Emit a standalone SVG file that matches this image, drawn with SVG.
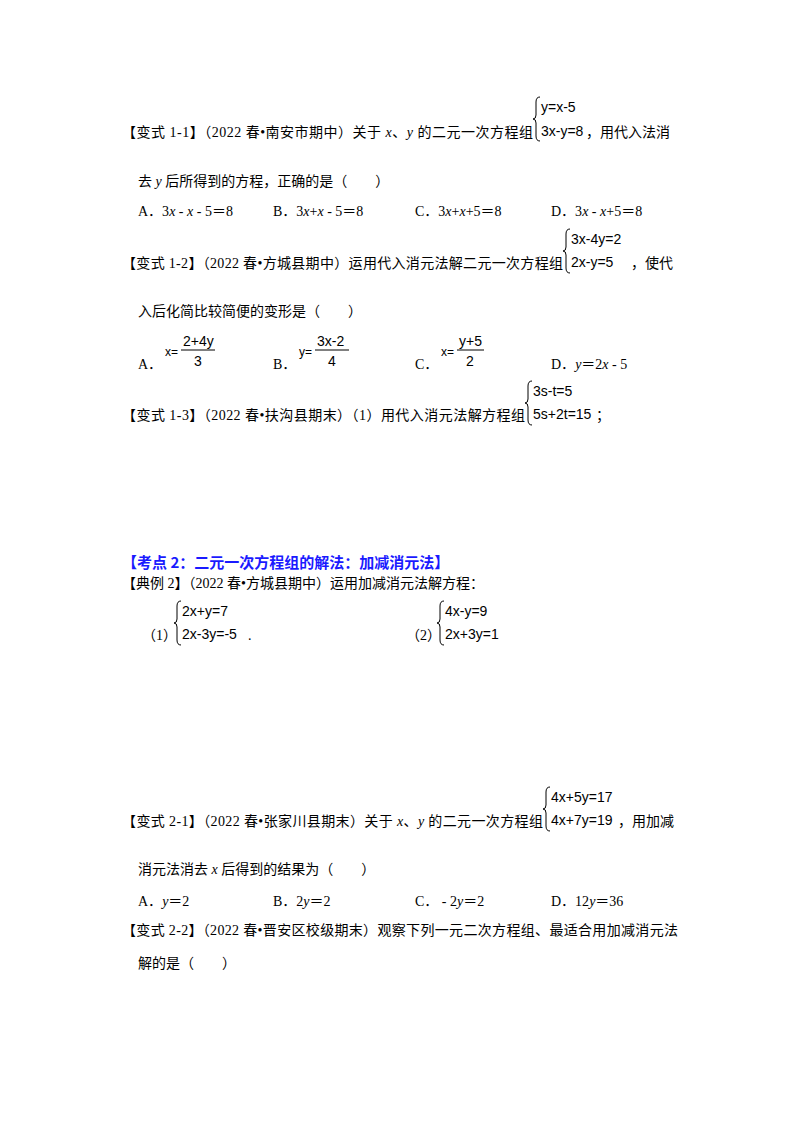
<svg xmlns="http://www.w3.org/2000/svg" width="800" height="1132" viewBox="0 0 800 1132">
<style>
text{font-family:"Liberation Serif","Noto Sans CJK SC",serif;font-size:14px;fill:#000}
.eq{font-family:"Liberation Sans","DejaVu Sans",sans-serif;font-size:14px}
.sm{font-size:12px}
.h{font-family:"Noto Sans CJK SC",sans-serif;font-weight:bold;font-size:15px;fill:#1a1aff}
.br{fill:none;stroke:#000;stroke-width:1}
</style>
<rect width="800" height="1132" fill="#fff"/>
<defs><path id="brace" class="br" d="M7,0 Q3,0 3,5 L3,18 Q3,22 0,22 Q3,22 3,26 L3,39 Q3,44 7,44"/></defs>

<text x="122" y="137" textLength="411" lengthAdjust="spacing">【变式 1-1】（2022 春•南安市期中）关于 <tspan font-style="italic">x</tspan>、<tspan font-style="italic">y</tspan> 的二元一次方程组</text>
<use href="#brace" x="533" y="97"/>
<text class="eq" x="541" y="112">y=x-5</text>
<text class="eq" x="541" y="136">3x-y=8</text>
<text x="586" y="137">，用代入法消</text>
<text x="138" y="186">去 <tspan font-style="italic">y</tspan> 后所得到的方程，正确的是（　　）</text>
<text x="138" y="216">A．3<tspan font-style="italic">x</tspan> - <tspan font-style="italic">x</tspan> - 5＝8</text>
<text x="273" y="216">B．3<tspan font-style="italic">x</tspan>+<tspan font-style="italic">x</tspan> - 5＝8</text>
<text x="415" y="216">C．3<tspan font-style="italic">x</tspan>+<tspan font-style="italic">x</tspan>+5＝8</text>
<text x="551" y="216">D．3<tspan font-style="italic">x</tspan> - <tspan font-style="italic">x</tspan>+5＝8</text>

<text x="122" y="268" textLength="441" lengthAdjust="spacing">【变式 1-2】（2022 春•方城县期中）运用代入消元法解二元一次方程组</text>
<use href="#brace" x="563" y="229"/>
<text class="eq" x="571" y="244">3x-4y=2</text>
<text class="eq" x="571" y="267">2x-y=5</text>
<text x="631" y="268">，使代</text>
<text x="138" y="316">入后化简比较简便的变形是（　　）</text>
<text x="138" y="369">A．</text>
<text class="eq sm" x="165" y="356">x=</text>
<text class="eq" x="183" y="346">2+4y</text>
<line x1="181" y1="350" x2="215" y2="350" stroke="#000"/>
<text class="eq" x="194" y="366">3</text>
<text x="273" y="369">B．</text>
<text class="eq sm" x="299" y="356">y=</text>
<text class="eq" x="317" y="346">3x-2</text>
<line x1="315" y1="350" x2="349" y2="350" stroke="#000"/>
<text class="eq" x="328" y="366">4</text>
<text x="415" y="369">C．</text>
<text class="eq sm" x="441" y="356">x=</text>
<text class="eq" x="459" y="346">y+5</text>
<line x1="457" y1="350" x2="484" y2="350" stroke="#000"/>
<text class="eq" x="466" y="366">2</text>
<text x="551" y="369">D．<tspan font-style="italic">y</tspan>＝2<tspan font-style="italic">x</tspan> - 5</text>

<text x="122" y="420" textLength="403" lengthAdjust="spacing">【变式 1-3】（2022 春•扶沟县期末）（1）用代入消元法解方程组</text>
<use href="#brace" x="525" y="381"/>
<text class="eq" x="533" y="396">3s-t=5</text>
<text class="eq" x="533" y="419">5s+2t=15</text>
<text x="596" y="420">；</text>

<text class="h" x="122" y="568">【考点 2：二元一次方程组的解法：加减消元法】</text>
<text x="122" y="588">【典例 2】（2022 春•方城县期中）运用加减消元法解方程：</text>
<text x="142" y="640">（1）</text>
<use href="#brace" x="174" y="601"/>
<text class="eq" x="182" y="616">2x+y=7</text>
<text class="eq" x="182" y="639">2x-3y=-5</text>
<text x="248" y="640">.</text>
<text x="406" y="640">（2）</text>
<use href="#brace" x="437" y="601"/>
<text class="eq" x="445" y="616">4x-y=9</text>
<text class="eq" x="445" y="639">2x+3y=1</text>

<text x="122" y="826" textLength="421" lengthAdjust="spacing">【变式 2-1】（2022 春•张家川县期末）关于 <tspan font-style="italic">x</tspan>、<tspan font-style="italic">y</tspan> 的二元一次方程组</text>
<use href="#brace" x="543" y="787"/>
<text class="eq" x="551" y="802">4x+5y=17</text>
<text class="eq" x="551" y="825">4x+7y=19</text>
<text x="618" y="826">，用加减</text>
<text x="138" y="874">消元法消去 <tspan font-style="italic">x</tspan> 后得到的结果为（　　）</text>
<text x="138" y="906">A．<tspan font-style="italic">y</tspan>＝2</text>
<text x="273" y="906">B．2<tspan font-style="italic">y</tspan>＝2</text>
<text x="415" y="906">C． - 2<tspan font-style="italic">y</tspan>＝2</text>
<text x="551" y="906">D．12<tspan font-style="italic">y</tspan>＝36</text>
<text x="122" y="935" textLength="556" lengthAdjust="spacing">【变式 2-2】（2022 春•晋安区校级期末）观察下列一元二次方程组、最适合用加减消元法</text>
<text x="138" y="968">解的是（　　）</text>
</svg>
